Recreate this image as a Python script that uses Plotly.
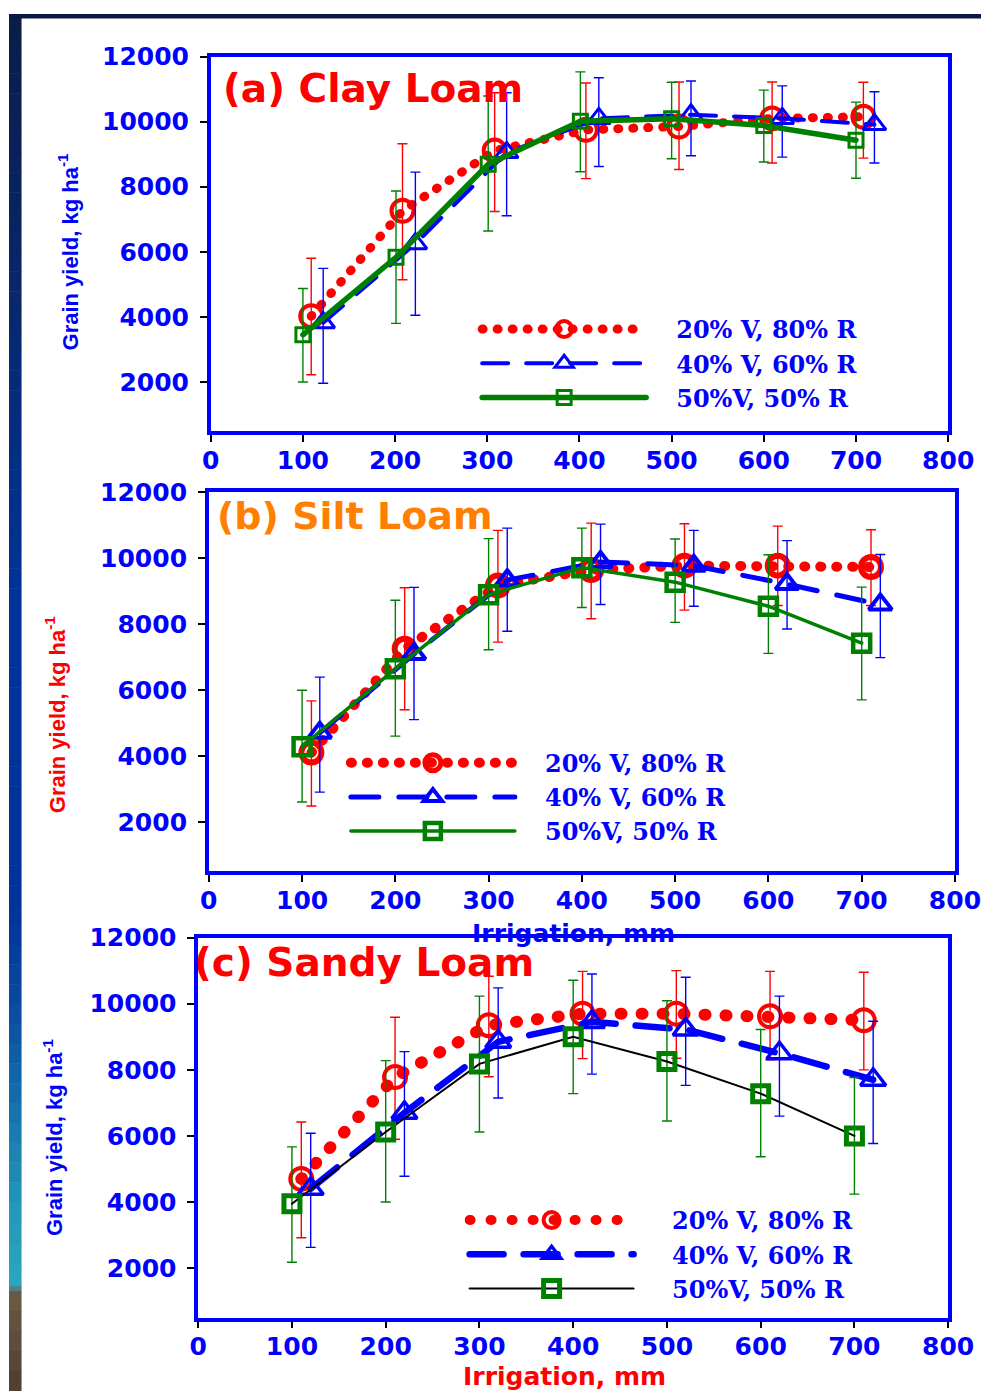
import plotly.graph_objects as go

W, H = 1007, 1391

irrigation = [100, 200, 300, 400, 500, 600, 700]
series_names = ["20% V, 80% R", "40% V, 60% R", "50%V, 50% R"]
x_ticks = [0, 100, 200, 300, 400, 500, 600, 700, 800]
y_ticks = [2000, 4000, 6000, 8000, 10000, 12000]

# ---- (a) Clay Loam ----
a_x_20 = [109, 208, 308, 407, 508, 609, 708]
a_y_20 = [4020, 7260, 9110, 9750, 9850, 10100, 10150]
a_lo_20 = [2220, 5140, 7240, 8250, 8530, 8730, 8880]
a_hi_20 = [5800, 9320, 10890, 11190, 11220, 11220, 11210]
a_x_40 = [122, 222, 321, 421, 521, 620, 720]
a_y_40 = [3820, 6250, 9050, 10100, 10210, 10100, 9910]
a_lo_40 = [1960, 4050, 7110, 8620, 8950, 8910, 8730]
a_hi_40 = [5490, 8450, 10890, 11350, 11250, 11100, 10920]
a_x_50 = [100, 201, 301, 401, 500, 600, 700]
a_y_50 = [3450, 5830, 8690, 10010, 10090, 9880, 9430]
a_lo_50 = [2000, 3800, 6640, 8460, 8860, 8760, 8260]
a_hi_50 = [4870, 7870, 10790, 11530, 11210, 10970, 10600]

# ---- (b) Silt Loam ----
b_x_20 = [110, 210, 310, 410, 510, 610, 710]
b_y_20 = [4100, 7250, 9170, 9640, 9770, 9770, 9730]
b_lo_20 = [2480, 5400, 7450, 8160, 8420, 8560, 8560]
b_hi_20 = [5670, 9100, 10840, 11060, 11040, 10970, 10860]
b_x_40 = [119, 220, 320, 420, 520, 620, 720]
b_y_40 = [4700, 7090, 9330, 9880, 9770, 9210, 8590]
b_lo_40 = [2900, 5100, 7780, 8590, 8540, 7850, 6980]
b_hi_40 = [6390, 9110, 10910, 11030, 10840, 10530, 10110]
b_x_50 = [100, 200, 300, 400, 500, 600, 700]
b_y_50 = [4280, 6640, 8890, 9710, 9270, 8540, 7420]
b_lo_50 = [2600, 4600, 7220, 8500, 8050, 7110, 5700]
b_hi_50 = [5990, 8720, 10590, 10910, 10580, 10100, 9120]

# ---- (c) Sandy Loam ----
c_x_20 = [110, 210, 310, 410, 510, 610, 710]
c_y_20 = [4700, 7780, 9350, 9700, 9700, 9620, 9500]
c_lo_20 = [2920, 5900, 7790, 8340, 8350, 8300, 8000]
c_hi_20 = [6420, 9590, 10830, 10980, 11000, 10980, 10950]
c_x_40 = [120, 220, 320, 420, 520, 620, 720]
c_y_40 = [4400, 6700, 8850, 9450, 9220, 8500, 7700]
c_lo_40 = [2630, 4780, 7150, 7870, 7530, 6600, 5770]
c_hi_40 = [6080, 8550, 10480, 10900, 10800, 10230, 9470]
c_x_50 = [100, 200, 300, 400, 500, 600, 700]
c_y_50 = [3950, 6120, 8180, 9000, 8250, 7280, 6000]
c_lo_50 = [2180, 4000, 6120, 7280, 6450, 5370, 4240]
c_hi_50 = [5670, 8280, 10230, 10710, 10090, 9220, 7770]

RED, BLUE, GREEN, ORANGE = "#FF0000", "#0000FF", "#008000", "#FF8000"
PADS = {"legend": "\u00a0" * 3, "legend2": "\u00a0" * 3, "legend3": "\u00a0" * 4}


def px_x(p):
    return p / W


def px_y(p):
    return 1 - p / H


fig = go.Figure()


def add_series(xs, ys, lo, hi, name, axis_n, legend_id, line, marker, ecolor):
    fig.add_trace(go.Scatter(
        x=xs, y=ys, name=PADS[legend_id] + name, mode="lines+markers",
        xaxis="x" if axis_n == 1 else f"x{axis_n}",
        yaxis="y" if axis_n == 1 else f"y{axis_n}",
        legend=legend_id,
        line=line, marker=marker,
        error_y=dict(type="data", symmetric=False,
                     array=[h - v for h, v in zip(hi, ys)],
                     arrayminus=[v - l for v, l in zip(ys, lo)],
                     color=ecolor, thickness=1.4, width=5),
    ))


# panel a
add_series(a_x_20, a_y_20, a_lo_20, a_hi_20, series_names[0], 1, "legend",
           dict(color=RED, width=9, dash="1px,14px"),
           dict(symbol="circle-open", size=22, color=RED, line=dict(width=4, color=RED)), RED)
add_series(a_x_40, a_y_40, a_lo_40, a_hi_40, series_names[1], 1, "legend",
           dict(color=BLUE, width=4, dash="26px,18px"),
           dict(symbol="triangle-up-open", size=20, color=BLUE, line=dict(width=3, color=BLUE)), BLUE)
add_series(a_x_50, a_y_50, a_lo_50, a_hi_50, series_names[2], 1, "legend",
           dict(color=GREEN, width=5.5),
           dict(symbol="square-open", size=14, color=GREEN, line=dict(width=3, color=GREEN)), GREEN)

# panel b
add_series(b_x_20, b_y_20, b_lo_20, b_hi_20, series_names[0], 2, "legend2",
           dict(color=RED, width=10, dash="1px,15px"),
           dict(symbol="circle-open", size=20, color=RED, line=dict(width=6, color=RED)), RED)
add_series(b_x_40, b_y_40, b_lo_40, b_hi_40, series_names[1], 2, "legend2",
           dict(color=BLUE, width=5, dash="28px,20px"),
           dict(symbol="triangle-up-open", size=20, color=BLUE, line=dict(width=4, color=BLUE)), BLUE)
add_series(b_x_50, b_y_50, b_lo_50, b_hi_50, series_names[2], 2, "legend2",
           dict(color=GREEN, width=3.5),
           dict(symbol="square-open", size=17, color=GREEN, line=dict(width=4.5, color=GREEN)), GREEN)

# panel c
add_series(c_x_20, c_y_20, c_lo_20, c_hi_20, series_names[0], 3, "legend3",
           dict(color=RED, width=12, dash="1px,20px"),
           dict(symbol="circle-open", size=22, color=RED, line=dict(width=4, color=RED)), RED)
add_series(c_x_40, c_y_40, c_lo_40, c_hi_40, series_names[1], 3, "legend3",
           dict(color=BLUE, width=6.5, dash="34px,20px"),
           dict(symbol="triangle-up-open", size=22, color=BLUE, line=dict(width=3.5, color=BLUE)), BLUE)
add_series(c_x_50, c_y_50, c_lo_50, c_hi_50, series_names[2], 3, "legend3",
           dict(color="#000000", width=2),
           dict(symbol="square-open", size=16, color=GREEN, line=dict(width=5, color=GREEN)), GREEN)

tick_font = dict(family="DejaVu Sans", size=25, color=BLUE, weight="bold")


def xaxis(dom, anchor):
    return dict(domain=dom, anchor=anchor, range=[0, 800], tickvals=x_ticks, tickformat="d",
                showgrid=False, zeroline=False, showline=True, linecolor=BLUE, linewidth=3.5,
                mirror=True, ticks="outside", ticklen=7, tickwidth=1.5, tickcolor="black",
                tickfont=tick_font, ticklabelstandoff=-3)


def yaxis(dom, anchor):
    return dict(domain=dom, anchor=anchor, range=[500, 12000], tickvals=y_ticks, tickformat="d",
                showgrid=False, zeroline=False, showline=True, linecolor=BLUE, linewidth=3.5,
                mirror=True, ticks="outside", ticklen=7, tickwidth=1.5, tickcolor="black",
                tickfont=tick_font, ticklabelstandoff=6)


legend_font = dict(family="DejaVu Serif", size=24, color=BLUE, weight="bold")


def legend_at(xp, yp):
    return dict(x=px_x(xp), y=px_y(yp), xanchor="left", yanchor="top", xref="paper", yref="paper",
                bgcolor="rgba(0,0,0,0)", borderwidth=0, font=legend_font, itemwidth=164,
                tracegroupgap=0)


annotations = []


def note(text, xp, yp, color, size, xanchor="left", angle=0, family="DejaVu Sans"):
    annotations.append(dict(text=text, x=px_x(xp), y=px_y(yp), xref="paper", yref="paper",
                            xanchor=xanchor, yanchor="middle", showarrow=False, textangle=angle,
                            font=dict(family=family, size=size, color=color, weight="bold")))


note("(a) Clay Loam", 220, 75, RED, 39)
note("(b) Silt Loam", 213, 507, ORANGE, 38)
note("(c) Sandy Loam", 190, 958, RED, 39)
ytitle = "Grain yield, kg ha<sup>-1</sup>"
note(ytitle, 61, 240, BLUE, 22, "center", -90, "Liberation Sans")
note(ytitle, 48, 707, RED, 22, "center", -90, "Liberation Sans")
note(ytitle, 45, 1134, BLUE, 22, "center", -90, "Liberation Sans")
note("Irrigation, mm", 585, 929, BLUE, 25, "center")
note("Irrigation, mm", 576, 1376, RED, 25, "center")

# decorative slide frame (left strip gradient + top strip)
stops = [(0, (11, 29, 72)), (300, (8, 40, 110)), (600, (0, 52, 154)), (900, (0, 51, 153)),
         (1000, (10, 74, 160)), (1100, (21, 112, 171)), (1200, (35, 150, 185)),
         (1285, (42, 168, 194)), (1290, (107, 92, 72)), (1391, (78, 63, 48))]
shapes = []
for (y0, c0), (y1, c1) in zip(stops[:-1], stops[1:]):
    n = max(1, int((y1 - y0) / 20))
    for k in range(n):
        t = (k + 0.5) / n
        col = tuple(int(c0[i] + (c1[i] - c0[i]) * t) for i in range(3))
        ya = y0 + (y1 - y0) * k / n
        yb = y0 + (y1 - y0) * (k + 1) / n
        shapes.append(dict(type="rect", xref="paper", yref="paper", x0=0, x1=px_x(13),
                           y0=px_y(yb + 0.5), y1=px_y(ya), line=dict(width=0),
                           fillcolor="rgb(%d,%d,%d)" % col, layer="below"))
shapes.append(dict(type="rect", xref="paper", yref="paper", x0=0, x1=1, y0=px_y(4.5), y1=1,
                   line=dict(width=0), fillcolor="rgb(8,26,66)", layer="below"))

fig.update_layout(
    width=W, height=H, margin=dict(l=0, r=0, t=0, b=0),
    paper_bgcolor="white", plot_bgcolor="white",
    xaxis=xaxis([px_x(209), px_x(973)], "y"),
    yaxis=yaxis([px_y(421), px_y(43)], "x"),
    xaxis2=xaxis([px_x(207), px_x(980)], "y2"),
    yaxis2=yaxis([px_y(866), px_y(483)], "x2"),
    xaxis3=xaxis([px_x(196), px_x(973)], "y3"),
    yaxis3=yaxis([px_y(1317), px_y(933)], "x3"),
    legend=legend_at(485, 296),
    legend2=legend_at(349, 734),
    legend3=legend_at(472, 1196),
    annotations=annotations, shapes=shapes, showlegend=True,
)

post = """
var s = document.createElement('style');
s.innerHTML = 'html,body{margin:0;padding:0;overflow:hidden;background:#ffffff;}'
  + ' .js-line{stroke-linecap:round;}';
document.head.appendChild(s);
"""
fig.write_html("out.html", post_script=post)
